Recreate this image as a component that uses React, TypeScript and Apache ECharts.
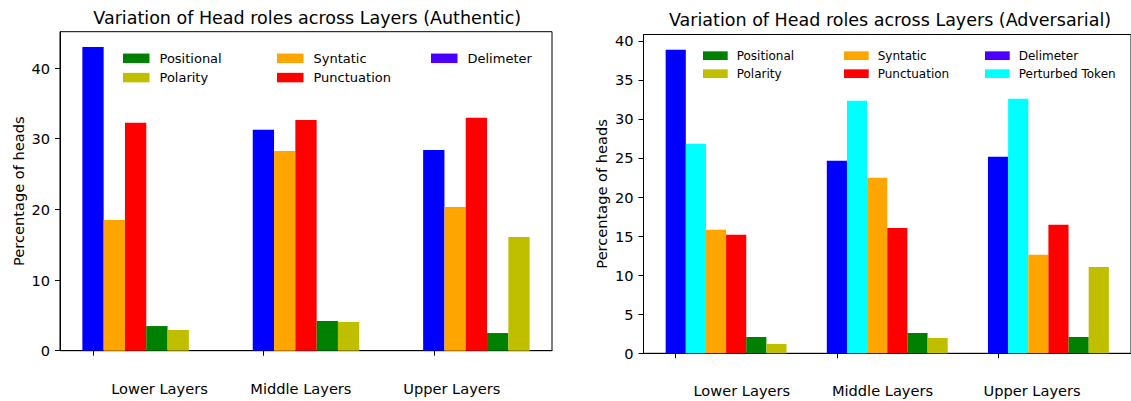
import React, { useEffect, useRef } from 'react';
import * as echarts from 'echarts';

// ---------- data ----------
const groupLabels = ['Lower Layers', 'Middle Layers', 'Upper Layers'];
const groupTicks = [0, 1, 2];

// Authentic panel (bar order inside each group)
const authOrder = ['Delimeter', 'Syntatic', 'Punctuation', 'Positional', 'Polarity'];
const authDelimeter = [43.0, 31.26, 28.42];
const authSyntatic = [18.5, 28.28, 20.35];
const authPunctuation = [32.25, 32.67, 32.96];
const authPositional = [3.49, 4.2, 2.5];
const authPolarity = [2.93, 4.06, 16.1];

// Adversarial panel
const advOrder = ['Delimeter', 'Perturbed Token', 'Syntatic', 'Punctuation', 'Positional', 'Polarity'];
const advDelimeter = [38.86, 24.64, 25.15];
const advPerturbed = [26.81, 32.32, 32.58];
const advSyntatic = [15.8, 22.46, 12.6];
const advPunctuation = [15.16, 16.05, 16.44];
const advPositional = [2.09, 2.6, 2.09];
const advPolarity = [1.2, 1.96, 11.06];

const authYTicks = [0, 10, 20, 30, 40];
const advYTicks = [0, 5, 10, 15, 20, 25, 30, 35, 40];
const authLabelPos = [0.39, 1.22, 2.106];
const advLabelPos = [0.41, 1.283, 2.211];

const authLegendCols = [['Positional', 'Polarity'], ['Syntatic', 'Punctuation'], ['Delimeter']];
const advLegendCols = [['Positional', 'Polarity'], ['Syntatic', 'Punctuation'], ['Delimeter', 'Perturbed Token']];

const authTitle = 'Variation of Head roles across Layers (Authentic)';
const advTitle = 'Variation of Head roles across Layers (Adversarial)';
const yName = 'Percentage of heads';

// ---------- styles ----------
const BAR_W = 0.125;
const FONT = 'DejaVu Sans';
const TICK_FS = 14.6;
const TITLE_FS = 17.5;
const COLORS: Record<string, string> = {
  Delimeter: '#0000ff',
  'Perturbed Token': '#00ffff',
  Syntatic: '#ffa500',
  Punctuation: '#ff0000',
  Positional: '#008000',
  Polarity: '#bfbf00',
};
const LEGEND_COLORS: Record<string, string> = { ...COLORS, Delimeter: '#4b00ff' };

function buildPanel(
  idx: number,
  order: string[],
  values: Record<string, number[]>,
  yTicks: number[],
  labelPos: number[],
  grid: any,
  legend: {
    cols: string[][];
    lefts: number[];
    top: number;
    gap: number;
    itemW: number;
    itemH: number;
    pad: number;
    fs: number;
    lh: number;
  },
  nameGap: number,
  title: string,
  titleX: number,
  titleY: number
) {
  const k = order.length;
  const lo = -BAR_W / 2;
  const hi = groupTicks[groupTicks.length - 1] + (k - 1) * BAR_W + BAR_W / 2;
  const pad = 0.05 * (hi - lo);
  let maxV = 0;
  order.forEach((n) => values[n].forEach((v) => (maxV = Math.max(maxV, v))));
  const yMax = maxV * 1.05;

  const series = order.map((name, i) => ({
    type: 'custom',
    name,
    xAxisIndex: idx,
    yAxisIndex: idx,
    itemStyle: { color: COLORS[name] },
    encode: { x: 0, y: 1 },
    data: values[name].map((v, g) => [groupTicks[g] + i * BAR_W, v]),
    renderItem: (params: any, api: any) => {
      const x = api.value(0);
      const y = api.value(1);
      const p0 = api.coord([x - BAR_W / 2, y]);
      const p1 = api.coord([x + BAR_W / 2, 0]);
      return {
        type: 'rect',
        shape: { x: p0[0], y: p0[1], width: p1[0] - p0[0], height: p1[1] - p0[1] },
        style: { fill: api.visual('color') },
      };
    },
  }));

  const xAxis = {
    type: 'value',
    gridIndex: idx,
    min: lo - pad,
    max: hi + pad,
    splitLine: { show: false },
    axisLine: { show: true, onZero: false, lineStyle: { color: '#000', width: 1 } },
    axisTick: { show: true, customValues: groupTicks, length: 5, lineStyle: { color: '#000' } },
    axisLabel: {
      show: true,
      customValues: labelPos,
      margin: 30,
      fontSize: TICK_FS,
      fontFamily: FONT,
      color: '#000',
      formatter: (v: number) => {
        let best = 0;
        labelPos.forEach((p, j) => {
          if (Math.abs(p - v) < Math.abs(labelPos[best] - v)) best = j;
        });
        return groupLabels[best];
      },
    },
  };

  const yAxis = {
    type: 'value',
    gridIndex: idx,
    min: 0,
    max: yMax,
    splitLine: { show: false },
    axisLine: { show: true, onZero: false, lineStyle: { color: '#000', width: 1 } },
    axisTick: { show: true, customValues: yTicks, length: 5, lineStyle: { color: '#000' } },
    axisLabel: {
      customValues: yTicks,
      margin: 10,
      fontSize: TICK_FS,
      fontFamily: FONT,
      color: '#000',
    },
    name: yName,
    nameLocation: 'middle',
    nameGap,
    nameTextStyle: { fontSize: TICK_FS, fontFamily: FONT, color: '#000' },
  };

  const legends = legend.cols.map((col, c) => ({
    orient: 'vertical',
    left: legend.lefts[c],
    top: legend.top,
    padding: 0,
    itemGap: legend.gap,
    itemWidth: legend.itemW,
    itemHeight: legend.itemH,
    icon: 'rect',
    selectedMode: false,
    textStyle: {
      fontSize: legend.fs,
      fontFamily: FONT,
      color: '#000',
      lineHeight: legend.lh,
      padding: [0, 0, 0, legend.pad],
    },
    data: col.map((n) => ({ name: n, itemStyle: { color: LEGEND_COLORS[n] } })),
  }));

  const titleEl = {
    type: 'text',
    x: titleX,
    y: titleY,
    silent: true,
    style: {
      text: title,
      fontSize: TITLE_FS,
      fontFamily: FONT,
      fill: '#000',
      textAlign: 'center',
      textVerticalAlign: 'middle',
    },
  };

  return { series, xAxis, yAxis, legends, grid, titleEl };
}

export default function App() {
  const ref = useRef<HTMLDivElement>(null);

  useEffect(() => {
    if (!ref.current) return;
    const chart = echarts.init(ref.current, null, { renderer: 'svg' });

    const a = buildPanel(
      0,
      authOrder,
      {
        Delimeter: authDelimeter,
        Syntatic: authSyntatic,
        Punctuation: authPunctuation,
        Positional: authPositional,
        Polarity: authPolarity,
      },
      authYTicks,
      authLabelPos,
      { left: 60, top: 31.7, width: 492, height: 319 },
      {
        cols: authLegendCols,
        lefts: [123, 277, 431],
        top: 50.8,
        gap: 4.3,
        itemW: 26.5,
        itemH: 9.5,
        pad: 5,
        fs: 13,
        lh: 15,
      },
      34,
      authTitle,
      307.2,
      17.8
    );
    const b = buildPanel(
      1,
      advOrder,
      {
        Delimeter: advDelimeter,
        'Perturbed Token': advPerturbed,
        Syntatic: advSyntatic,
        Punctuation: advPunctuation,
        Positional: advPositional,
        Polarity: advPolarity,
      },
      advYTicks,
      advLabelPos,
      { left: 643.5, top: 34.5, width: 491.6, height: 318.8 },
      {
        cols: advLegendCols,
        lefts: [703, 844, 985],
        top: 48.7,
        gap: 4,
        itemW: 24.7,
        itemH: 8.7,
        pad: 4,
        fs: 12,
        lh: 14,
      },
      35,
      advTitle,
      890,
      20.4
    );

    const gridStyle = { show: true, borderColor: '#000', borderWidth: 1, backgroundColor: 'transparent' };

    chart.setOption({
      animation: false,
      backgroundColor: '#fff',
      textStyle: { fontFamily: FONT },
      grid: [
        { ...a.grid, ...gridStyle },
        { ...b.grid, ...gridStyle },
      ],
      xAxis: [a.xAxis, b.xAxis],
      yAxis: [a.yAxis, b.yAxis],
      legend: [...a.legends, ...b.legends],
      series: [...a.series, ...b.series],
      graphic: [a.titleEl, b.titleEl],
    });

    return () => chart.dispose();
  }, []);

  return (
    <div
      ref={ref}
      style={{ position: 'absolute', left: 0, top: 0, width: 1131, height: 401 }}
    />
  );
}
